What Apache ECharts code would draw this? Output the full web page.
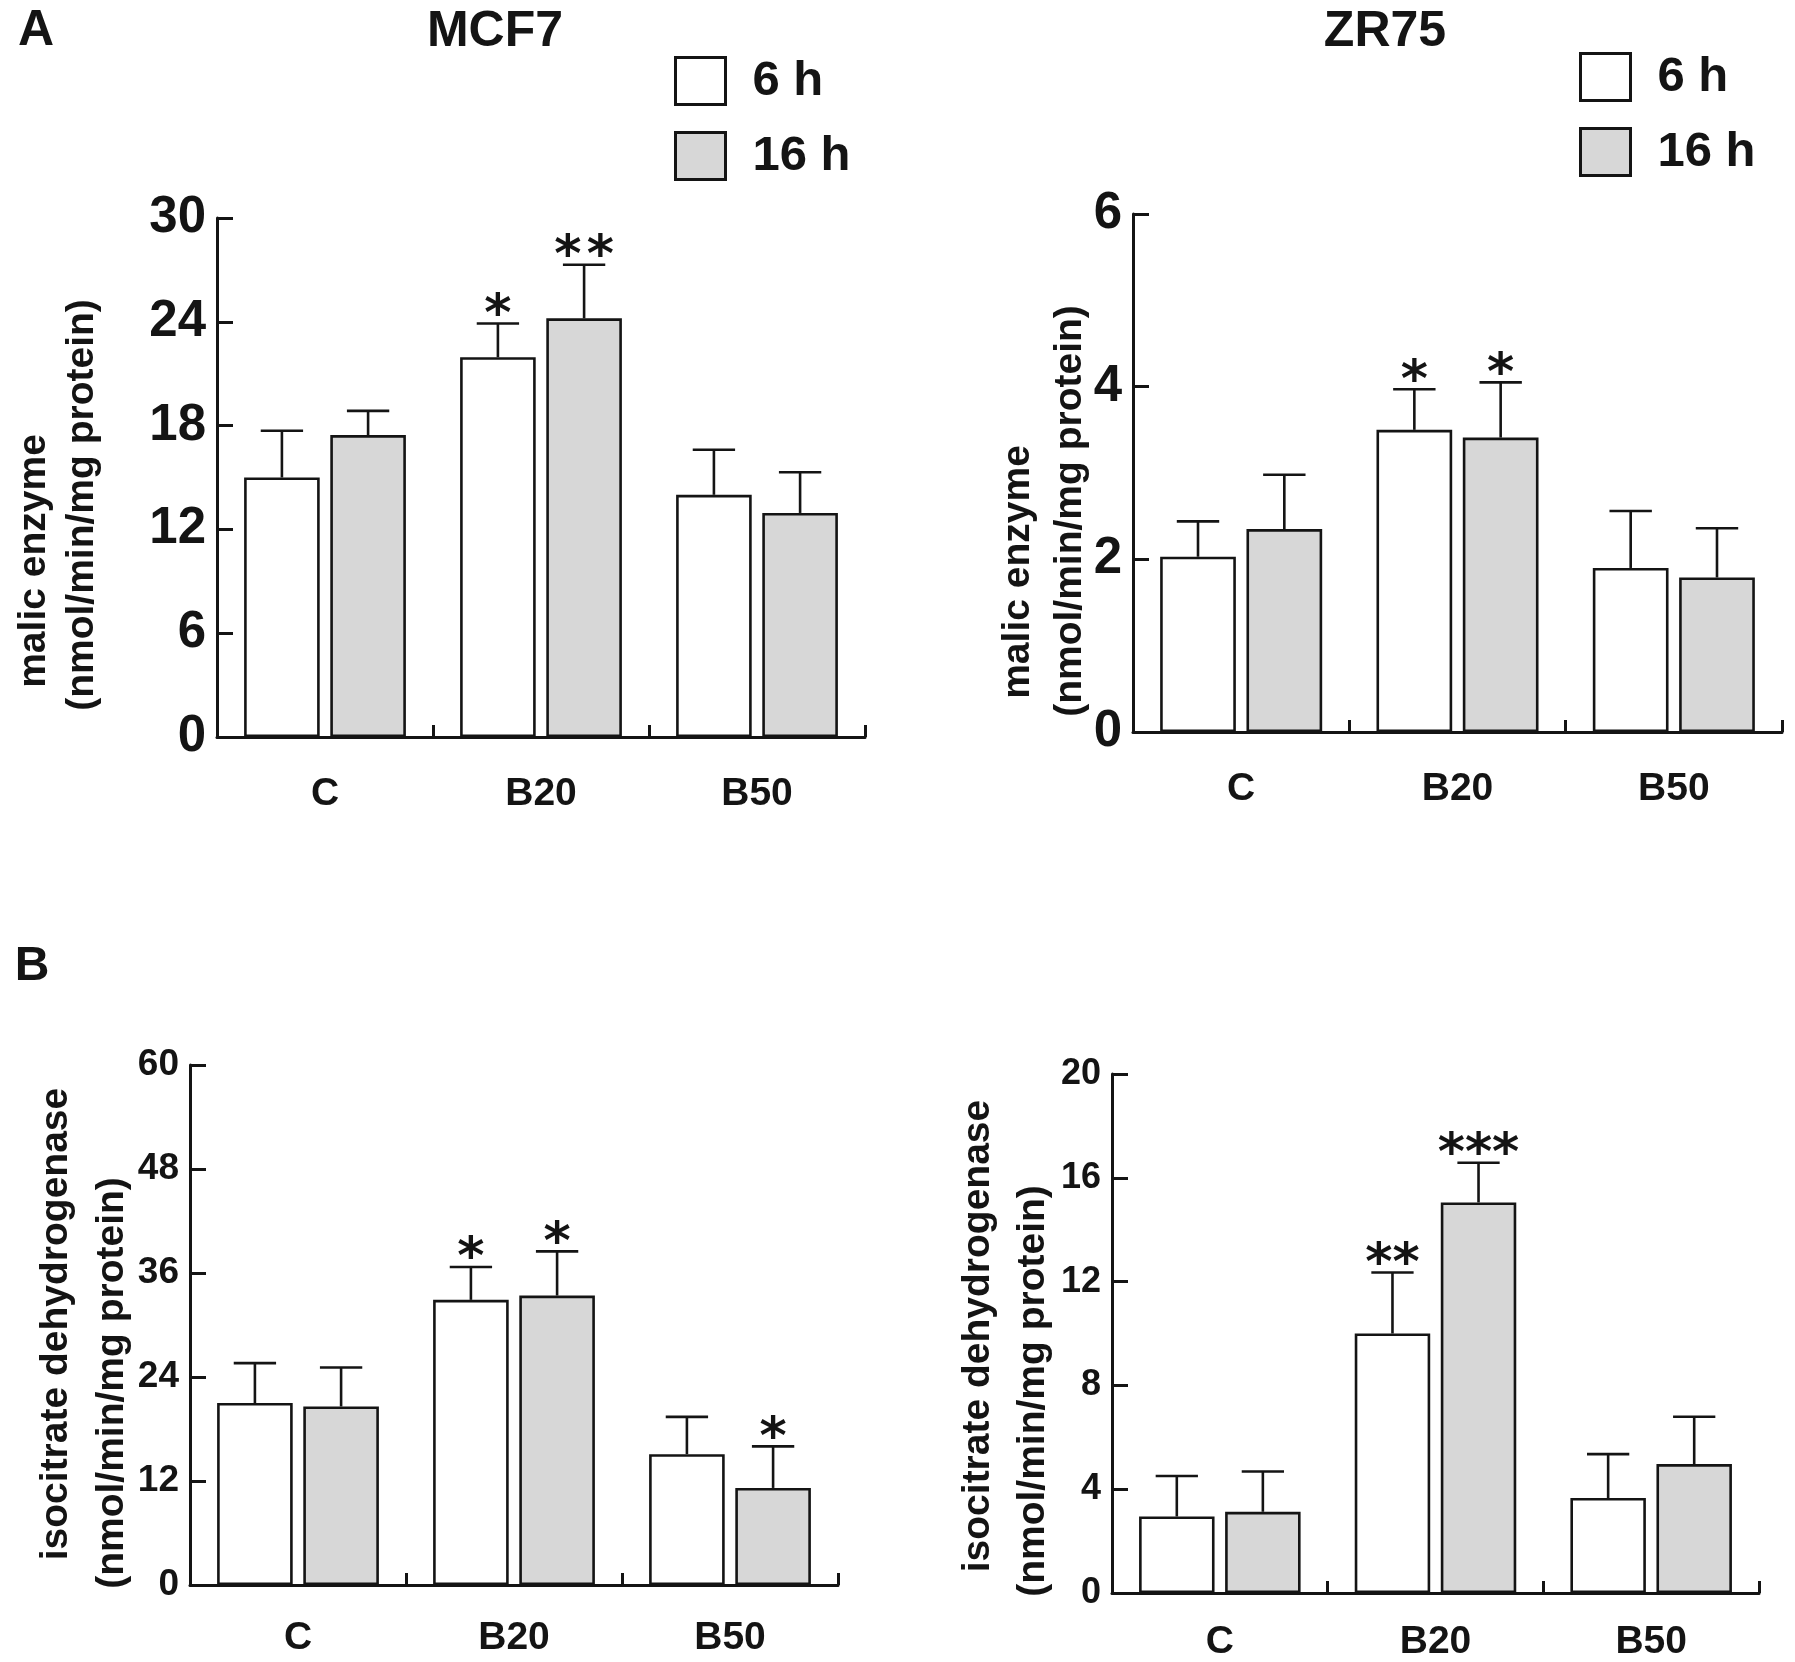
<!DOCTYPE html>
<html>
<head>
<meta charset="utf-8">
<script src="https://cdn.jsdelivr.net/npm/echarts@6/dist/echarts.min.js"></script>
<style>
html,body{margin:0;padding:0;background:#fff;}
#chart{width:1795px;height:1662px;}
</style>
</head>
<body>
<div id="chart"></div>
<script>
// ---------- data ----------
const categories = ['C', 'B20', 'B50'];
const seriesNames = ['6 h', '16 h'];

// Panel A, MCF7 – malic enzyme
const mcf7Malic6h = [15.0, 21.95, 14.0];
const mcf7Malic6hSD = [2.7, 1.95, 2.6];
const mcf7Malic16h = [17.45, 24.2, 12.95];
const mcf7Malic16hSD = [1.4, 3.1, 2.35];
const mcf7MalicStars6h = ['', '*', ''];
const mcf7MalicStars16h = ['', '*\u200A*', ''];

// Panel A, ZR75 – malic enzyme
const zr75Malic6h = [2.03, 3.5, 1.9];
const zr75Malic6hSD = [0.41, 0.47, 0.66];
const zr75Malic16h = [2.35, 3.41, 1.79];
const zr75Malic16hSD = [0.63, 0.64, 0.57];
const zr75MalicStars6h = ['', '*', ''];
const zr75MalicStars16h = ['', '*', ''];

// Panel B, MCF7 – isocitrate dehydrogenase
const mcf7Idh6h = [21.0, 32.9, 15.1];
const mcf7Idh6hSD = [4.6, 3.8, 4.3];
const mcf7Idh16h = [20.6, 33.4, 11.2];
const mcf7Idh16hSD = [4.5, 5.1, 4.8];
const mcf7IdhStars6h = ['', '*', ''];
const mcf7IdhStars16h = ['', '*', '*'];

// Panel B, ZR75 – isocitrate dehydrogenase
const zr75Idh6h = [2.95, 10.0, 3.66];
const zr75Idh6hSD = [1.56, 2.35, 1.69];
const zr75Idh16h = [3.13, 15.05, 4.97];
const zr75Idh16hSD = [1.55, 1.53, 1.82];
const zr75IdhStars6h = ['', '**', ''];
const zr75IdhStars16h = ['', '***', ''];

// axis ticks
const yTicksMalicMCF7 = {min: 0, max: 30, interval: 6};
const yTicksMalicZR75 = {min: 0, max: 6, interval: 2};
const yTicksIdhMCF7 = {min: 0, max: 60, interval: 12};
const yTicksIdhZR75 = {min: 0, max: 20, interval: 4};

// ---------- styling ----------
const FONT = 'Liberation Sans, Arial, Helvetica, sans-serif';
const INK = '#141414';
const GRAY = '#d7d7d7';
const BAR_W = 0.35;     // fraction of category band
const BAR_GAP = 0.14;   // fraction of bar width

const panels = [
  {grid: {left: 217, top: 218, width: 648, height: 519}, yt: yTicksMalicMCF7, tickFont: 51, xMargin: 38,
   v6: mcf7Malic6h, sd6: mcf7Malic6hSD, v16: mcf7Malic16h, sd16: mcf7Malic16hSD,
   st6: mcf7MalicStars6h, st16: mcf7MalicStars16h},
  {grid: {left: 1133, top: 214, width: 649, height: 518}, yt: yTicksMalicZR75, tickFont: 51, xMargin: 38,
   v6: zr75Malic6h, sd6: zr75Malic6hSD, v16: zr75Malic16h, sd16: zr75Malic16hSD,
   st6: zr75MalicStars6h, st16: zr75MalicStars16h},
  {grid: {left: 190, top: 1065, width: 648, height: 520}, yt: yTicksIdhMCF7, tickFont: 37, xMargin: 34,
   v6: mcf7Idh6h, sd6: mcf7Idh6hSD, v16: mcf7Idh16h, sd16: mcf7Idh16hSD,
   st6: mcf7IdhStars6h, st16: mcf7IdhStars16h},
  {grid: {left: 1112, top: 1074, width: 647, height: 519}, yt: yTicksIdhZR75, tickFont: 36, xMargin: 30,
   v6: zr75Idh6h, sd6: zr75Idh6hSD, v16: zr75Idh16h, sd16: zr75Idh16hSD,
   st6: zr75IdhStars6h, st16: zr75IdhStars16h}
];

function errRenderer(sign, stars) {
  return function (params, api) {
    const i = api.value(0), v = api.value(1), e = api.value(2);
    const base = api.coord([i, v]);
    const top = api.coord([i, v + e]);
    const band = api.size([1, 0])[0];
    const bw = band * BAR_W;
    const x = base[0] + sign * (bw + bw * BAR_GAP) / 2;
    const cap = bw * 0.56;
    const ls = {stroke: INK, lineWidth: 2.6};
    const children = [
      {type: 'line', shape: {x1: x, y1: base[1], x2: x, y2: top[1]}, style: ls},
      {type: 'line', shape: {x1: x - cap / 2, y1: top[1], x2: x + cap / 2, y2: top[1]}, style: ls}
    ];
    const s = stars[params.dataIndex];
    if (s) {
      children.push({type: 'text', x: x, y: top[1] - 7,
        style: {text: s, fontSize: 52, fontWeight: 'bold', fontFamily: 'DejaVu Sans, sans-serif',
                fill: INK, align: 'center', verticalAlign: 'middle'}});
    }
    return {type: 'group', children: children};
  };
}

const grid = [], xAxis = [], yAxis = [], series = [];
panels.forEach(function (p, k) {
  grid.push(Object.assign({containLabel: false}, p.grid));
  xAxis.push({
    type: 'category', gridIndex: k, data: categories,
    axisLine: {show: true, lineStyle: {color: INK, width: 3}},
    axisTick: {show: true, inside: true, length: 12, lineStyle: {color: INK, width: 3}, alignWithLabel: false},
    axisLabel: {show: true, interval: 0, margin: p.xMargin, fontSize: 39, fontWeight: 'bold', fontFamily: FONT, color: INK},
    splitLine: {show: false}
  });
  yAxis.push({
    type: 'value', gridIndex: k, min: p.yt.min, max: p.yt.max, interval: p.yt.interval,
    axisLine: {show: true, lineStyle: {color: INK, width: 3}},
    axisTick: {show: true, inside: true, length: 16, lineStyle: {color: INK, width: 3}},
    axisLabel: {show: true, margin: 11, fontSize: p.tickFont, fontWeight: 'bold', fontFamily: FONT, color: INK},
    splitLine: {show: false}
  });
  series.push({
    type: 'bar', name: seriesNames[0], xAxisIndex: k, yAxisIndex: k,
    data: p.v6, barWidth: (BAR_W * 100) + '%', barGap: (BAR_GAP * 100) + '%',
    itemStyle: {color: '#ffffff', borderColor: INK, borderWidth: 2.6}, z: 2
  });
  series.push({
    type: 'bar', name: seriesNames[1], xAxisIndex: k, yAxisIndex: k,
    data: p.v16, barWidth: (BAR_W * 100) + '%', barGap: (BAR_GAP * 100) + '%',
    itemStyle: {color: GRAY, borderColor: INK, borderWidth: 2.6}, z: 2
  });
  series.push({
    type: 'custom', xAxisIndex: k, yAxisIndex: k, z: 3,
    data: categories.map(function (c, i) { return [i, p.v6[i], p.sd6[i]]; }),
    encode: {x: 0, y: 1}, renderItem: errRenderer(-1, p.st6)
  });
  series.push({
    type: 'custom', xAxisIndex: k, yAxisIndex: k, z: 3,
    data: categories.map(function (c, i) { return [i, p.v16[i], p.sd16[i]]; }),
    encode: {x: 0, y: 1}, renderItem: errRenderer(1, p.st16)
  });
});

function legendAt(left, top) {
  return {
    data: seriesNames, orient: 'vertical', left: left, top: top, padding: 0,
    icon: 'rect', itemWidth: 50, itemHeight: 47, itemGap: 25, selectedMode: false,
    itemStyle: {borderColor: INK, borderWidth: 3},
    textStyle: {fontSize: 49, fontWeight: 'bold', fontFamily: FONT, color: INK, padding: [0, 0, 0, 22]}
  };
}

function txt(text, x, y, size, rot) {
  return {type: 'text', x: x, y: y, rotation: rot || 0,
    style: {text: text, fontSize: size, fontWeight: 'bold', fontFamily: FONT, fill: INK,
            align: 'center', verticalAlign: 'middle'}};
}
const R = Math.PI / 2;
const graphics = [
  txt('A', 36, 31, 50), txt('MCF7', 495, 32, 50), txt('ZR75', 1385, 32, 50), txt('B', 32, 967, 48),
  txt('malic enzyme', 34, 561, 39, R), txt('(nmol/min/mg protein)', 82, 505, 39, R),
  txt('malic enzyme', 1018, 572, 39, R), txt('(nmol/min/mg protein)', 1070, 511, 39, R),
  txt('isocitrate dehydrogenase', 56, 1324, 39, R), txt('(nmol/min/mg protein)', 112, 1383, 39, R),
  txt('isocitrate dehydrogenase', 978, 1336, 39, R), txt('(nmol/min/mg protein)', 1033, 1391, 39, R)
];

const chart = echarts.init(document.getElementById('chart'), null, {renderer: 'canvas'});
chart.setOption({
  backgroundColor: '#ffffff',
  animation: false,
  textStyle: {fontFamily: FONT},
  legend: [legendAt(674, 56), legendAt(1579, 52)],
  grid: grid, xAxis: xAxis, yAxis: yAxis, series: series,
  graphic: graphics
});
</script>
</body>
</html>
